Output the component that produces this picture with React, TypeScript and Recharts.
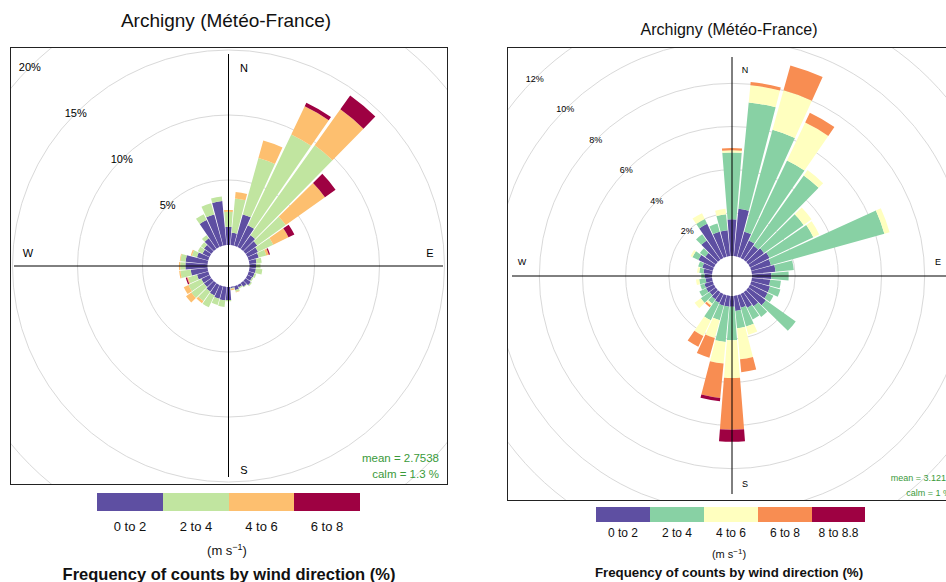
import React from "react";
import {
  RadialBarChart,
  RadialBar,
  PolarAngleAxis,
  PolarRadiusAxis,
  PolarGrid,
} from "recharts";

// wind directions, degrees clockwise from north
const DIRS = [
  0, 10, 20, 30, 40, 50, 60, 70, 80, 90, 100, 110, 120, 130, 140, 150, 160, 170,
  180, 190, 200, 210, 220, 230, 240, 250, 260, 270, 280, 290, 300, 310, 320, 330, 340, 350,
];

// left rose: % of counts per speed bin
const LEFT_BINS = ["0 to 2", "2 to 4", "4 to 6", "6 to 8"];
const LEFT_COLORS = ["#5E4FA2", "#C1E5A0", "#FDBF6F", "#9E0142"];
const left0to2 = [
  1.4, 0.95, 2.5, 1.85, 1.3, 1.1, 0.9, 0.8, 0.55, 0.5, 0.5, 0.45, 0.4, 0.5, 0.35, 0.2, 0.3, 0.1,
  1.0, 1.05, 1.0, 0.9, 0.8, 0.7, 0.7, 0.9, 1.3, 1.7, 1.7, 0.9, 0.6, 0.7, 1.0, 2.3, 2.5, 3.4,
];
const left2to4 = [
  1.15, 2.65, 4.5, 7.75, 8.5, 2.7, 1.3, 0.6, 0.4, 0.35, 0.5, 0.15, 0.1, 0.1, 0.05, 0.1, 0.15, 0.05,
  0.1, 0.5, 0.5, 1.0, 0.9, 1.2, 1.1, 0.7, 0.8, 0.4, 0.4, 0.4, 0.4, 0.3, 0.3, 0.5, 0.9, 0.35,
];
const left4to6 = [
  0.15, 0.5, 1.4, 2.4, 3.4, 3.7, 1.3, 0.2, 0, 0, 0, 0, 0, 0, 0, 0, 0.05, 0.1,
  0, 0, 0, 0, 0.2, 0.5, 0.4, 0.1, 0.1, 0.1, 0.05, 0.1, 0, 0, 0, 0, 0, 0,
];
const left6to8 = [
  0, 0, 0, 0.3, 1.3, 1.0, 0.5, 0.1, 0, 0, 0, 0, 0, 0, 0, 0, 0, 0,
  0, 0, 0, 0, 0, 0, 0, 0.1, 0, 0, 0, 0, 0, 0, 0, 0, 0, 0,
];

// right rose
const RIGHT_BINS = ["0 to 2", "2 to 4", "4 to 6", "6 to 8", "8 to 8.8"];
const RIGHT_COLORS = ["#5E4FA2", "#88D1A4", "#FFFFBF", "#F88D52", "#9E0142"];
const right0to2 = [
  1.7, 2.2, 1.2, 0.9, 0.8, 0.9, 1.0, 0.95, 1.1, 0.9, 0.85, 0.9, 0.9, 1.0, 0.8, 0.7, 0.6, 0.7,
  0.5, 0.5, 0.5, 0.45, 0.4, 0.35, 0.4, 0.4, 0.3, 0.35, 0.4, 0.5, 0.8, 0.6, 1.1, 1.75, 1.2, 1.2,
];
const right2to4 = [
  3.1, 4.95, 4.9, 4.1, 4.0, 2.25, 2.25, 5.45, 0.85, 0.8, 0.5, 0.5, 0.3, 1.7, 0.6, 0.6, 0.9, 0.8,
  1.55, 1.65, 0.7, 0.9, 0.25, 0.5, 0.35, 0.2, 0.3, 0.15, 0.2, 0.2, 0.3, 0.3, 0.35, 0.25, 0.4, 0.75,
];
const right4to6 = [
  0.1, 0.8, 1.9, 1.95, 0.3, 0.45, 0.3, 0.25, 0, 0, 0, 0, 0, 0, 0, 0, 0.4, 1.45,
  1.75, 1.0, 0.85, 0.8, 0.1, 0.35, 0, 0, 0.15, 0, 0.1, 0, 0.1, 0, 0, 0.3, 0, 0.25,
];
const right6to8 = [
  0.1, 0.15, 1.2, 0.5, 0, 0, 0, 0, 0, 0, 0, 0, 0, 0, 0, 0, 0, 0.6,
  2.4, 1.6, 0.95, 0.55, 0.1, 0, 0, 0, 0, 0, 0, 0, 0, 0, 0, 0, 0, 0,
];
const right8to9 = [
  0, 0, 0, 0, 0, 0, 0, 0, 0, 0, 0, 0, 0, 0, 0, 0, 0, 0,
  0.55, 0.15, 0, 0, 0, 0, 0, 0, 0, 0, 0, 0, 0, 0, 0, 0, 0, 0,
];

const LEFT_TICKS = [5, 10, 15, 20];
const RIGHT_TICKS = [2, 4, 6, 8, 10, 12];

const leftData = DIRS.map((dir, i) => ({
  dir,
  b0: left0to2[i],
  b1: left2to4[i],
  b2: left4to6[i],
  b3: left6to8[i],
}));

const rightData = DIRS.map((dir, i) => ({
  dir,
  b0: right0to2[i],
  b1: right2to4[i],
  b2: right4to6[i],
  b3: right6to8[i],
  b4: right8to9[i],
}));

const FONT = '"Liberation Sans", Arial, Helvetica, sans-serif';

function Rose({ data, colors, width, height, cx, cy, inner, outer, max, ticks, fontSize }: any) {
  return (
    <RadialBarChart
      width={width}
      height={height}
      data={data}
      layout="centric"
      cx={cx}
      cy={cy}
      innerRadius={inner}
      outerRadius={outer}
      startAngle={85}
      endAngle={-275}
      barCategoryGap="5%"
      margin={{ top: 0, right: 0, bottom: 0, left: 0 }}
    >
      <PolarGrid gridType="circle" radialLines={false} stroke="#d9d9d9" />
      <PolarAngleAxis type="category" dataKey="dir" tick={false} axisLine={false} tickLine={false} />
      <PolarRadiusAxis
        type="number"
        domain={[0, max]}
        ticks={ticks}
        angle={135}
        axisLine={false}
        tickLine={false}
        tick={(p: any) => (
          <text
            x={p.x}
            y={p.y}
            textAnchor="middle"
            dominantBaseline="central"
            fontSize={fontSize}
            fontFamily={FONT}
            fill="#000"
            stroke="none"
          >
            {p.payload.value}%
          </text>
        )}
      />
      {colors.map((c: string, i: number) => (
        <RadialBar key={i} dataKey={"b" + i} stackId="s" fill={c} isAnimationActive={false} />
      ))}
    </RadialBarChart>
  );
}

export default function App() {
  const lLeg = [97, 163, 229, 294, 360];
  const rLeg = [596, 650, 704, 758, 812, 865];
  return (
    <div
      style={{
        position: "fixed",
        left: 0,
        top: 0,
        width: 946,
        height: 582,
        overflow: "hidden",
        background: "#fff",
        fontFamily: FONT,
      }}
    >
      <div style={{ position: "absolute", left: 10, top: 47 }}>
        <Rose
          data={leftData}
          colors={LEFT_COLORS}
          width={438}
          height={438}
          cx={218.5}
          cy={219}
          inner={21}
          outer={281}
          max={20}
          ticks={LEFT_TICKS}
          fontSize={11}
        />
      </div>
      <div style={{ position: "absolute", left: 507, top: 47 }}>
        <Rose
          data={rightData}
          colors={RIGHT_COLORS}
          width={450}
          height={454}
          cx={225}
          cy={229}
          inner={20}
          outer={279}
          max={12}
          ticks={RIGHT_TICKS}
          fontSize={9}
        />
      </div>
      <svg
        width={946}
        height={582}
        style={{ position: "absolute", left: 0, top: 0, pointerEvents: "none" }}
        fontFamily={FONT}
      >
        {/* left panel frame */}
        <text x={226} y={27} fontSize={19} textAnchor="middle" fill="#111">
          Archigny (Météo-France)
        </text>
        <rect x={10.5} y={47.5} width={437} height={437} fill="none" stroke="#222" />
        <line x1={228.5} y1={54} x2={228.5} y2={477} stroke="#000" />
        <line x1={14} y1={266} x2={443} y2={266} stroke="#000" />
        <text x={244} y={72} fontSize={11} textAnchor="middle">N</text>
        <text x={430} y={257} fontSize={11} textAnchor="middle">E</text>
        <text x={244} y={474} fontSize={11} textAnchor="middle">S</text>
        <text x={28} y={257} fontSize={11} textAnchor="middle">W</text>
        <text x={439} y={462} fontSize={11.5} textAnchor="end" fill="#3a9a3a">mean  =  2.7538</text>
        <text x={439} y={478} fontSize={11.5} textAnchor="end" fill="#3a9a3a">calm =  1.3 %</text>
        {LEFT_BINS.map((b, i) => (
          <g key={b}>
            <rect x={lLeg[i]} y={493} width={lLeg[i + 1] - lLeg[i]} height={18} fill={LEFT_COLORS[i]} />
            <text x={(lLeg[i] + lLeg[i + 1]) / 2} y={531} fontSize={13} textAnchor="middle" fill="#111">
              {b}
            </text>
          </g>
        ))}
        <text x={227} y={555} fontSize={13} textAnchor="middle" fill="#111">
          (m s<tspan dy={-5} fontSize={9}>−1</tspan><tspan dy={5}>)</tspan>
        </text>
        <text x={229} y={580} fontSize={16.5} fontWeight="bold" textAnchor="middle" fill="#111">
          Frequency of counts by wind direction (%)
        </text>

        {/* right panel frame */}
        <text x={729} y={35} fontSize={16} textAnchor="middle" fill="#111">
          Archigny (Météo-France)
        </text>
        <rect x={507.5} y={47.5} width={450} height={453} fill="none" stroke="#222" />
        <line x1={732} y1={57} x2={732} y2={494} stroke="#000" />
        <line x1={512} y1={276} x2={952} y2={276} stroke="#000" />
        <text x={745} y={73} fontSize={9} textAnchor="middle">N</text>
        <text x={938} y={265} fontSize={9} textAnchor="middle">E</text>
        <text x={745} y={487} fontSize={9} textAnchor="middle">S</text>
        <text x={522} y={265} fontSize={9} textAnchor="middle">W</text>
        <text x={951} y={481} fontSize={9} textAnchor="end" fill="#3a9a3a">mean  =  3.1212</text>
        <text x={951} y={496} fontSize={9} textAnchor="end" fill="#3a9a3a">calm =  1 %</text>
        {RIGHT_BINS.map((b, i) => (
          <g key={b}>
            <rect x={rLeg[i]} y={507} width={rLeg[i + 1] - rLeg[i]} height={15} fill={RIGHT_COLORS[i]} />
            <text x={(rLeg[i] + rLeg[i + 1]) / 2} y={537} fontSize={12} textAnchor="middle" fill="#111">
              {b}
            </text>
          </g>
        ))}
        <text x={729} y={558} fontSize={11} textAnchor="middle" fill="#111">
          (m s<tspan dy={-4} fontSize={8}>−1</tspan><tspan dy={4}>)</tspan>
        </text>
        <text x={729} y={577} fontSize={13.3} fontWeight="bold" textAnchor="middle" fill="#111">
          Frequency of counts by wind direction (%)
        </text>
      </svg>
    </div>
  );
}
